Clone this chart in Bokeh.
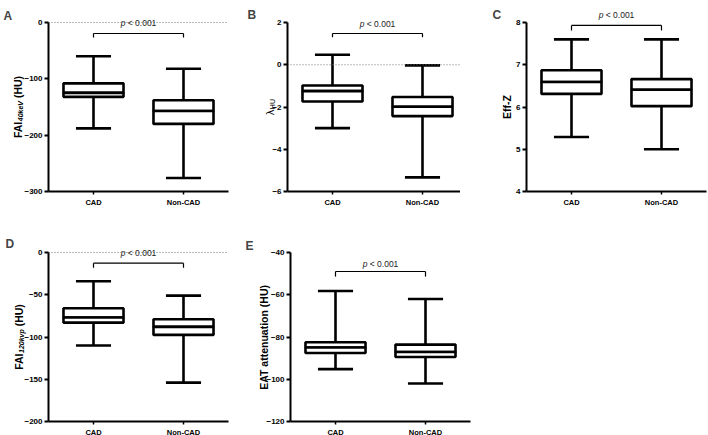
import math
from bokeh.plotting import figure
from bokeh.models import (Range1d, FixedTicker, Label, Whisker, TeeHead,
                          ColumnDataSource, LinearAxis)
from bokeh.layouts import row, column
from bokeh.embed import file_html
from bokeh.resources import INLINE

groups = ["CAD", "Non-CAD"]

# Panel A: FAI 40keV (HU)
a_hi = [-60, -82]
a_q3 = [-108, -138]
a_med = [-125, -157]
a_q1 = [-132, -180]
a_lo = [-188, -276]
a_ticks = [-300, -200, -100, 0]

# Panel B: lambda HU
b_hi = [0.47, -0.03]
b_q3 = [-0.98, -1.53]
b_med = [-1.25, -1.99]
b_q1 = [-1.74, -2.43]
b_lo = [-3.0, -5.33]
b_ticks = [-6, -4, -2, 0, 2]

# Panel C: Eff-Z
c_hi = [7.6, 7.6]
c_q3 = [6.87, 6.66]
c_med = [6.59, 6.41]
c_q1 = [6.31, 6.02]
c_lo = [5.29, 5.0]
c_ticks = [4, 5, 6, 7, 8]

# Panel D: FAI 120kvp (HU)
d_hi = [-34, -51]
d_q3 = [-66, -79]
d_med = [-77, -88]
d_q1 = [-83, -97.5]
d_lo = [-110, -154]
d_ticks = [-200, -150, -100, -50, 0]

# Panel E: EAT attenuation (HU)
e_hi = [-58.2, -62]
e_q3 = [-82.5, -83.6]
e_med = [-85, -87.1]
e_q1 = [-87.6, -89.5]
e_lo = [-95.2, -102]
e_ticks = [-120, -100, -80, -60, -40]

p_text = "p"
p_rest = "\u00a0<\u00a00.001"

FONT = "Liberation Sans"
BOLD_W = {'F': 611, 'A': 722, 'I': 278, ' ': 278, '\u00a0': 278, '(': 333, ')': 333, 'H': 722,
          'U': 722, 'E': 667, 'T': 611, 'a': 556, 't': 333, 'e': 556, 'n': 611, 'u': 611,
          'i': 278, 'o': 611, 'f': 333, '-': 333, 'Z': 611, '4': 556, '0': 556, '1': 556,
          '2': 556, 'k': 556, 'V': 667, 'v': 556, 'p': 611}
REG_W = {'λ': 556, 'H': 722, 'U': 722, 'p': 556, ' ': 278, '\u00a0': 278, '<': 584, '0': 556,
         '.': 278, '1': 556}


def tw(text, size, bold):
    table = BOLD_W if bold else REG_W
    return sum(table.get(ch, 556) for ch in text) * size / 1000.0


def make_panel(letter, hi, q3, med, q1, lo, ylim, ticks, label_pieces, label_x,
               p_y, br_y, br_t, zero_line, W, H, ax_px, unit, top_px, frame_h,
               letter_x, letter_dy):
    n = len(groups)
    xs = [i + 0.5 for i in range(n)]
    ymin, ymax = ylim
    per = (ymax - ymin) / frame_h
    below = H - top_px - frame_h
    p = figure(x_range=Range1d(-ax_px / unit, (W - ax_px) / unit),
               y_range=Range1d(ymin - below * per, ymax + top_px * per),
               width=W, height=H, x_axis_type=None, y_axis_type=None,
               output_backend="svg", toolbar_location=None,
               min_border_left=0, min_border_right=0, min_border_top=0, min_border_bottom=0)
    p.outline_line_color = None
    p.grid.visible = False
    p.background_fill_color = "white"
    p.border_fill_color = "white"

    src = ColumnDataSource(dict(x=xs, hi=hi, q3=q3, med=med, q1=q1, lo=lo))
    cap = 0.39 * unit
    wk = Whisker(source=src, base="x", upper="hi", lower="lo", line_width=2.6,
                 line_color="black", level="underlay",
                 upper_head=TeeHead(size=cap, line_width=2.6, line_color="black"),
                 lower_head=TeeHead(size=cap, line_width=2.6, line_color="black"))
    p.add_layout(wk)
    p.vbar(x="x", top="q3", bottom="med", width=0.667, fill_color="white",
           line_color="black", line_width=2.6, source=src)
    p.vbar(x="x", top="med", bottom="q1", width=0.667, fill_color="white",
           line_color="black", line_width=2.6, source=src)

    # significance bracket
    p.segment(x0=[xs[0]], y0=[br_y], x1=[xs[-1]], y1=[br_y], line_color="black", line_width=1.2)
    p.segment(x0=[xs[0], xs[-1]], y0=[br_y, br_y], x1=[xs[0], xs[-1]], y1=[br_t, br_t],
              line_color="black", line_width=1.2)

    if zero_line is not None:
        p.segment(x0=[0], y0=[zero_line], x1=[n], y1=[zero_line],
                  line_color="#777777", line_width=1, line_dash="1 2")

    # p-value text
    fs = 8.5
    total = tw(p_text, fs, False) + tw(p_rest, fs, False)
    cx = ax_px + unit * (xs[0] + xs[-1]) / 2
    x0 = cx - total / 2
    p.add_layout(Label(x=x0, y=p_y, x_units="screen", y_units="data", text=p_text,
                       text_font=FONT, text_font_size=f"{fs}px", text_font_style="italic",
                       text_align="left", text_baseline="middle", text_color="#222222"))
    p.add_layout(Label(x=x0 + tw(p_text, fs, False), y=p_y, x_units="screen", y_units="data",
                       text=p_rest, text_font=FONT, text_font_size=f"{fs}px",
                       text_align="left", text_baseline="middle", text_color="#222222"))

    # axes
    yax = LinearAxis(fixed_location=0, bounds=(ymin, ymax), ticker=FixedTicker(ticks=ticks))
    yax.axis_line_width = 2
    yax.major_tick_line_width = 2
    yax.major_tick_out = 4
    yax.major_tick_in = 0
    yax.minor_tick_line_color = None
    yax.major_label_text_font = FONT
    yax.major_label_text_font_style = "bold"
    yax.major_label_text_font_size = "8px"
    yax.major_label_text_color = "black"
    yax.major_label_standoff = 2
    p.add_layout(yax, "left")

    xax = LinearAxis(fixed_location=ymin, bounds=(0, n), ticker=FixedTicker(ticks=xs),
                     major_label_overrides={x: g for x, g in zip(xs, groups)})
    xax.axis_line_width = 2
    xax.major_tick_line_width = 1.5
    xax.major_tick_out = 3
    xax.major_tick_in = 0
    xax.minor_tick_line_color = None
    xax.major_label_text_font = FONT
    xax.major_label_text_font_style = "bold"
    xax.major_label_text_font_size = "7.5px"
    xax.major_label_text_color = "black"
    xax.major_label_standoff = 3
    p.add_layout(xax, "below")

    # y-axis label (rotated pieces)
    L = sum(tw(t, s, b) for (t, s, b, it, sh) in label_pieces)
    y = below + frame_h / 2 - L / 2
    for (t, s, b, it, sh) in label_pieces:
        style = ("bold " if b else "") + ("italic" if it else "")
        style = style.strip() or "normal"
        p.add_layout(Label(x=ax_px + label_x + sh, y=y, x_units="screen", y_units="screen", text=t,
                           angle=math.pi / 2, angle_units="rad", text_font=FONT,
                           text_font_size=f"{s}px", text_font_style=style,
                           text_align="left", text_baseline="alphabetic", text_color="black"))
        y += tw(t, s, b)

    # panel letter
    p.add_layout(Label(x=ax_px + letter_x, y=H - top_px + letter_dy, x_units="screen",
                       y_units="screen", text=letter, text_font=FONT, text_font_size="12px",
                       text_font_style="bold", text_align="left", text_baseline="alphabetic"))
    return p


FH = 169
T1, H1 = 22, 232
T2, H2 = 20, 203

pa = make_panel("A", a_hi, a_q3, a_med, a_q1, a_lo, (-300, 0), a_ticks,
                [("FAI", 10.5, True, False, 0), ("40keV", 7, True, True, 3),
                 ("\u00a0(HU)", 10.5, True, False, 0)],
                -31, 0, -19.5, -26.6, 0, 230, H1, 48, 90, T1, FH, -45, 7)
pb = make_panel("B", b_hi, b_q3, b_med, b_q1, b_lo, (-6, 2), b_ticks,
                [("λ", 10.5, False, False, 0), ("HU", 7, False, False, 3)],
                -18, 1.95, 1.48, 1.3, 0, 230, H1, 57, 90, T1, FH, -40, 8)
pc = make_panel("C", c_hi, c_q3, c_med, c_q1, c_lo, (4, 8), c_ticks,
                [("Eff-Z", 10.5, True, False, 0)],
                -20, 8.17, 7.93, 7.81, None, 248, H1, 66, 90, T1, FH, -34, 8)
pd = make_panel("D", d_hi, d_q3, d_med, d_q1, d_lo, (-200, 0), d_ticks,
                [("FAI", 10.5, True, False, 0), ("120kvp", 7, True, True, 3),
                 ("\u00a0(HU)", 10.5, True, False, 0)],
                -30, 0, -12.6, -18, 0, 230, H2, 48, 90, T2, FH, -43, 9)
pe = make_panel("E", e_hi, e_q3, e_med, e_q1, e_lo, (-120, -40), e_ticks,
                [("EAT attenuation (HU)", 10.5, True, False, 0)],
                -27, -45.4, -49, -51.4, None, 250, H2, 60, 90, T2, FH, -45, 7)

layout = column(row(pa, pb, pc), row(pd, pe))
open("out.html", "w").write(file_html(layout, INLINE))
